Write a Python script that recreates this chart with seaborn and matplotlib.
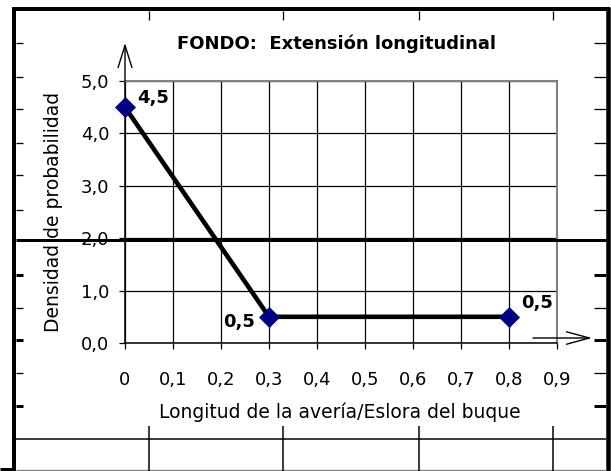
import matplotlib
matplotlib.use("Agg")
import matplotlib.pyplot as plt
from matplotlib.lines import Line2D
from matplotlib.patches import ArrowStyle
import seaborn as sns
import pandas as pd

# ---- data ----
x_vals = [0.0, 0.3, 0.8]
y_vals = [4.5, 0.5, 0.5]
point_labels = ["4,5", "0,5", "0,5"]
x_ticks = [0.0, 0.1, 0.2, 0.3, 0.4, 0.5, 0.6, 0.7, 0.8, 0.9]
x_tick_labels = ["0", "0,1", "0,2", "0,3", "0,4", "0,5", "0,6", "0,7", "0,8", "0,9"]
y_ticks = [0.0, 1.0, 2.0, 3.0, 4.0, 5.0]
y_tick_labels = ["0,0", "1,0", "2,0", "3,0", "4,0", "5,0"]
title = "FONDO:  Extensión longitudinal"
x_label = "Longitud de la avería/Eslora del buque"
y_label = "Densidad de probabilidad"

df = pd.DataFrame({"x": x_vals, "y": y_vals})

sns.set_theme(style="white")
plt.rcParams["font.family"] = ["DejaVu Sans"]

W, H = 611, 471
fig = plt.figure(figsize=(W / 100, H / 100), dpi=100)
fig.patch.set_facecolor("white")

ax = fig.add_axes([125 / W, (H - 343) / H, 432 / W, 262 / H])
ax.set_facecolor("white")

sns.lineplot(data=df, x="x", y="y", ax=ax, color="black", lw=3.3, sort=False,
             zorder=3)
sns.scatterplot(data=df, x="x", y="y", ax=ax, marker="D", s=115, color="#000080",
                linewidth=0, zorder=4, clip_on=False)
for c in ax.collections:
    c.set_clip_on(False)

ax.set_xlim(0, 0.9)
ax.set_ylim(0, 5)
ax.set_xticks(x_ticks)
ax.set_xticklabels(x_tick_labels)
ax.set_yticks(y_ticks)
ax.set_yticklabels(y_tick_labels)
ax.grid(True, color="black", lw=0.9)
ax.set_axisbelow(True)

ax.tick_params(axis="x", direction="out", length=4.3, width=0.9, color="black",
               pad=16, labelsize=13, labelcolor="black", bottom=True)
ax.tick_params(axis="y", direction="out", length=4.3, width=0.9, color="black",
               pad=7, labelsize=13, labelcolor="black", left=True)

for side in ["left", "bottom"]:
    ax.spines[side].set_color("black")
    ax.spines[side].set_linewidth(1.1)
for side in ["top", "right"]:
    ax.spines[side].set_color("#808080")
    ax.spines[side].set_linewidth(1.5)

ax.set_xlabel(x_label, fontsize=13.5, color="black")
ax.xaxis.label.set_va("baseline")
ax.xaxis.set_label_coords((340 - 125) / 432, (343 - 418) / 262)
ax.set_ylabel(y_label, fontsize=13.5, color="black")
ax.yaxis.label.set_va("center")
ax.yaxis.set_label_coords((53.5 - 125) / 432, 0.5)

# data labels
offsets = [(12, 4, "left"), (-14, -10, "right"), (12, 9, "left")]
for xv, yv, lab, (dx, dy, ha) in zip(x_vals, y_vals, point_labels, offsets):
    ax.annotate(lab, (xv, yv), xytext=(dx * 0.72, dy * 0.72), textcoords="offset points",
                ha=ha, va="baseline", fontsize=13, fontweight="bold", color="black",
                annotation_clip=False, zorder=5)

# axis arrows
ax.annotate("", xy=(0, 1 + 38 / 262), xytext=(0, 1), xycoords="axes fraction",
            arrowprops=dict(arrowstyle=ArrowStyle("->", head_length=1.6, head_width=0.5),
                            mutation_scale=10, lw=1.0, color="black",
                            shrinkA=0, shrinkB=0),
            annotation_clip=False)
ax.annotate("", xy=(467 / 432, 5 / 262), xytext=(408 / 432, 5 / 262),
            xycoords="axes fraction",
            arrowprops=dict(arrowstyle=ArrowStyle("->", head_length=1.65, head_width=0.45),
                            mutation_scale=10, lw=1.0, color="black",
                            shrinkA=0, shrinkB=0),
            annotation_clip=False)

# title
fig.text(336.5 / W, 1 - 49 / H, title, ha="center", va="baseline", fontsize=13,
         fontweight="bold", color="black")

# ---- surrounding frame decorations ----
def fx(x):
    return x / W


def fy(y):
    return 1 - y / H


def seg(x0, y0, x1, y1, px, color="black"):
    fig.add_artist(Line2D([fx(x0), fx(x1)], [fy(y0), fy(y1)], transform=fig.transFigure,
                          lw=px * 0.72, color=color, solid_capstyle="butt"))


# outer border
seg(14, 7, 14, 471, 4)
seg(12, 9, 610, 9, 4)
seg(608, 7, 608, 471, 4.5)
seg(0, 469, 14, 469, 3)
seg(16, 470, 606, 470, 1.3, color="#808080")

thin_ticks = [43, 77, 109, 143, 175, 210, 308, 373]
thick_ticks = [275, 340, 406]
for y in thin_ticks:
    seg(16, y, 23, y, 1.3)
    seg(594, y, 606, y, 1.3)
for y in thick_ticks:
    seg(16, y, 23, y, 3)
    seg(594, y, 606, y, 3)

col_x = [149, 283, 419, 553]
for x in col_x:
    seg(x, 11, x, 20, 1.3)
    seg(x, 426, x, 471, 1.5)

seg(16, 240, 606, 240, 3)
seg(16, 439, 606, 439, 1.5)

fig.savefig("out.png", dpi=100)
